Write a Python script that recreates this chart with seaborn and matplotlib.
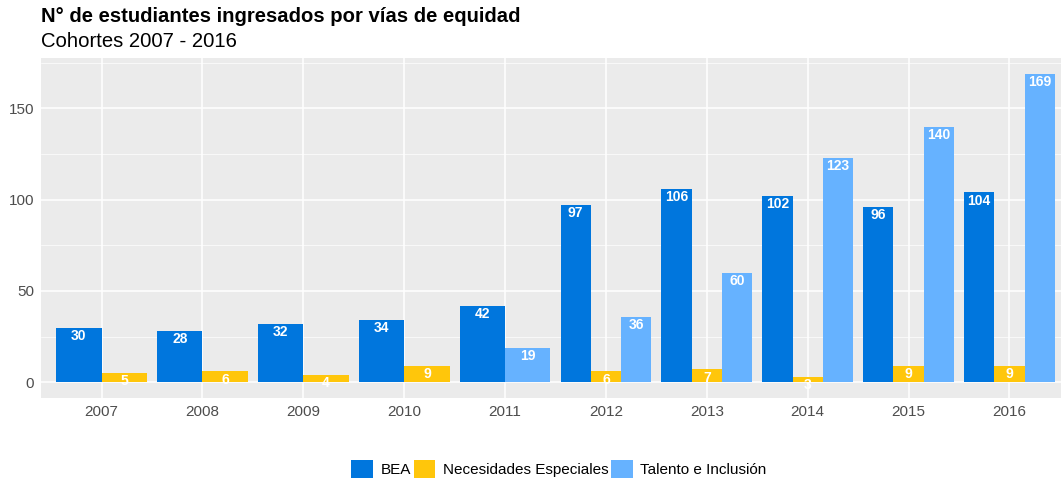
import matplotlib
matplotlib.use('Agg')
import matplotlib.pyplot as plt
import pandas as pd
import seaborn as sns
from matplotlib.patches import Patch

# Data
years = [2007, 2008, 2009, 2010, 2011, 2012, 2013, 2014, 2015, 2016]
bea = [30, 28, 32, 34, 42, 97, 106, 102, 96, 104]
necesidades = [5, 6, 4, 9, None, 6, 7, 3, 9, 9]
talento = [None, None, None, None, 19, 36, 60, 123, 140, 169]

series = ['BEA', 'Necesidades Especiales', 'Talento e Inclusión']
colors = {'BEA': '#0076DD', 'Necesidades Especiales': '#FFC60B', 'Talento e Inclusión': '#66B2FF'}

# long format, drop the missing combos (ggplot dodge then widens the bars)
df = pd.DataFrame({'year': years, 'BEA': bea,
                   'Necesidades Especiales': necesidades,
                   'Talento e Inclusión': talento})
df = df.melt(id_vars='year', var_name='via', value_name='n').dropna()

sns.set_theme(style='darkgrid', rc={
    'axes.facecolor': '#EBEBEB',
    'grid.color': 'white',
    'grid.linewidth': 1.1,
})
plt.rcParams['font.family'] = ['Liberation Sans', 'DejaVu Sans']

fig = plt.figure(figsize=(10.61, 4.82), dpi=100)
ax = fig.add_axes([41 / 1061, 1 - 397.7 / 482, 1029 / 1061, 339.4 / 482])

for yr in years:
    sub = df[df['year'] == yr]
    present = [s for s in series if s in sub['via'].values]
    sns.barplot(data=sub, x='year', y='n', hue='via', hue_order=present,
                palette=colors, native_scale=True, width=0.9, dodge=True,
                saturation=1, linewidth=0, legend=False, ax=ax)

for cont in ax.containers:
    ax.bar_label(cont, fmt='%d', padding=-11, color='white',
                 fontweight='bold', fontsize=10)

ax.set_xlim(2006.4, 2016.6)
ax.set_ylim(-8.45, 177.45)
ax.set_xticks(years)
ax.set_xticklabels([str(y) for y in years])
ax.set_yticks([0, 50, 100, 150])
ax.set_yticks([25, 75, 125, 175], minor=True)
ax.grid(which='minor', axis='y', color='white', linewidth=0.5)
ax.grid(which='major', axis='both', color='white', linewidth=1.1)
ax.set_axisbelow(True)
ax.set_xlabel('')
ax.set_ylabel('')
ax.tick_params(axis='both', which='major', length=3, width=0.8, color='#333333',
               labelcolor='#4D4D4D', labelsize=11, pad=2)
ax.tick_params(axis='both', which='minor', length=0)
for sp in ax.spines.values():
    sp.set_visible(False)

fig.text(41 / 1061, 1 - 22 / 482, 'N° de estudiantes ingresados por vías de equidad',
         fontsize=14.6, fontweight='bold', color='black', ha='left', va='baseline')
fig.text(41 / 1061, 1 - 47 / 482, 'Cohortes 2007 - 2016',
         fontsize=14.6, color='black', ha='left', va='baseline')

handles = [Patch(facecolor=colors[s], edgecolor='none') for s in series]
leg = fig.legend(handles, series, loc='center', bbox_to_anchor=(559 / 1061, 1 - 469 / 482),
                 ncol=3, frameon=False, fontsize=11, handlelength=1.4, handleheight=1.4,
                 handletextpad=0.5, columnspacing=0.2)
for t in leg.get_texts():
    t.set_color('black')

fig.savefig('out.png', dpi=100)
